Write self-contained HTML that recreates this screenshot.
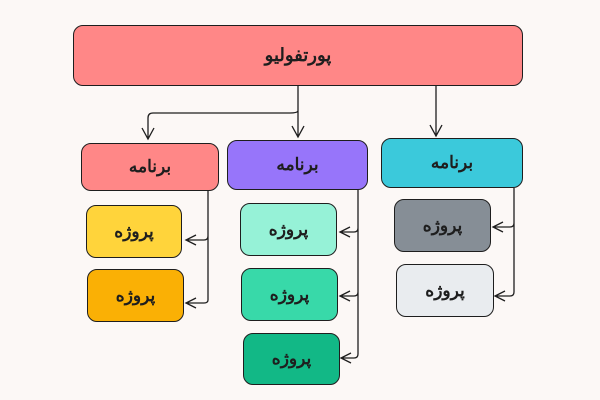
<!DOCTYPE html>
<html><head><meta charset="utf-8"><style>
body{margin:0;width:600px;height:400px;background:#fcf8f6;overflow:hidden;position:relative;font-family:"Liberation Sans","Noto Sans CJK SC",sans-serif}
.b{position:absolute;box-sizing:border-box;border:1.5px solid #1e1e1e;border-radius:10px;display:flex;align-items:center;justify-content:center;font-weight:bold;font-size:17px;color:#1e1e1e}
svg{position:absolute;left:0;top:0}
</style></head><body>
<div class="b" style="left:73px;top:25px;width:450px;height:61px;background:#ff8787;font-size:18px">پورتفولیو</div>
<div class="b" style="left:81px;top:143px;width:138px;height:48px;background:#ff8787">برنامه</div>
<div class="b" style="left:227px;top:140px;width:141px;height:50px;background:#9775fa">برنامه</div>
<div class="b" style="left:381px;top:138px;width:142px;height:50px;background:#3bc9db">برنامه</div>
<div class="b" style="left:86px;top:205px;width:96px;height:53px;background:#ffd43b">پروژه</div>
<div class="b" style="left:87px;top:269px;width:97px;height:53px;background:#fab005">پروژه</div>
<div class="b" style="left:240px;top:203px;width:97px;height:53px;background:#96f2d7">پروژه</div>
<div class="b" style="left:241px;top:268px;width:97px;height:53px;background:#38d9a9">پروژه</div>
<div class="b" style="left:243px;top:333px;width:97px;height:52px;background:#12b886">پروژه</div>
<div class="b" style="left:394px;top:199px;width:97px;height:53px;background:#868e96">پروژه</div>
<div class="b" style="left:396px;top:264px;width:98px;height:53px;background:#e9ecef">پروژه</div>
<svg width="600" height="400" fill="none" stroke="#1e1e1e" stroke-width="1.3">
<path d="M298 86V137M292 126L298 137L304 126"/>
<path d="M298 111Q297 113 290 113H153Q148 113 148 118V139M142 128L148 139L154 128"/>
<path d="M436 86V136M430 125L436 136L442 125"/>
<path d="M208 191V300Q208 303 204 303H186M208 236Q208 240 204 240H186M196 235L186 240L196 245M196 298L186 303L196 308"/>
<path d="M358 190V354Q358 358 354 358H341M358 228Q358 232 354 232H340M358 292Q358 296 354 296H340M350 227L340 232L350 237M350 291L340 296L350 301M351 353L341 358L351 363"/>
<path d="M514 188V292Q514 296 510 296H495M514 223Q514 227 510 227H493M503 222L493 227L503 232M505 291L495 296L505 301"/>
</svg>
</body></html>
